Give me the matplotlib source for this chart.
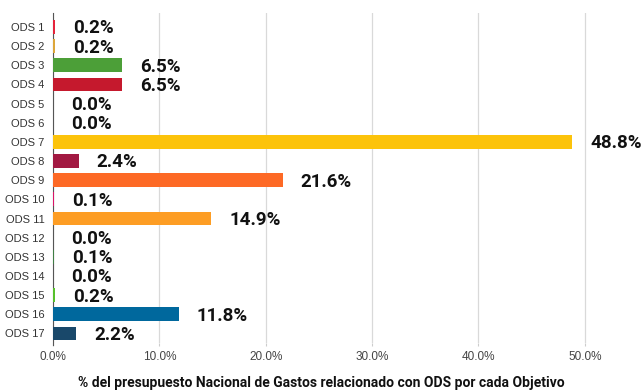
import matplotlib
matplotlib.use("Agg")
import matplotlib.pyplot as plt
from matplotlib.ticker import FuncFormatter

# porcentaje del presupuesto por cada ODS
categorias = ["ODS %d" % i for i in range(1, 18)]
valores = [0.2, 0.2, 6.5, 6.5, 0.0, 0.0, 48.8, 2.4, 21.6, 0.1,
           14.9, 0.0, 0.1, 0.0, 0.2, 11.8, 2.2]
colores = ["#E5243B", "#DDA63A", "#4C9F38", "#C5192D", "#FF3A21", "#26BDE2",
           "#FCC30B", "#A21942", "#FD6925", "#DD1367", "#FD9D24", "#BF8B2E",
           "#3F7E44", "#0A97D9", "#56C02B", "#00689D", "#19486A"]
ticks_x = [0, 10, 20, 30, 40, 50]
titulo_x = "% del presupuesto Nacional de Gastos relacionado con ODS por cada Objetivo"

fig = plt.figure(figsize=(6.42, 3.92), dpi=100)
ax = fig.add_axes([53 / 642, 1 - 343 / 392, 585 / 642, 330 / 392])

pos = list(range(len(categorias)))
ax.barh(pos, valores, height=0.72, color=colores, zorder=3)

for p, v in zip(pos, valores):
    ax.annotate("%.1f%%" % v, xy=(v, p), xytext=(13, -1), textcoords="offset points",
                va="center", ha="left", fontsize=13.5, fontweight="bold",
                family="Roboto", color="#111111")

ax.set_ylim(16.5, -0.73)
ax.set_xlim(0, 55)
ax.set_yticks(pos)
ax.set_yticklabels(categorias, family="Liberation Sans", fontsize=8, color="#333333")
ax.set_xticks(ticks_x)
ax.xaxis.set_major_formatter(FuncFormatter(lambda x, _: "%.1f%%" % x))
for t in ax.get_xticklabels():
    t.set_family("Liberation Sans")
    t.set_fontsize(8.5)
    t.set_color("#444444")
ax.tick_params(axis="x", length=2, color="#cccccc", pad=4)
ax.tick_params(axis="y", length=0, pad=6)
ax.grid(axis="x", color="#d9d9d9", linewidth=0.9, zorder=0)

for s in ["top", "right", "bottom"]:
    ax.spines[s].set_visible(False)
ax.spines["left"].set_color("#555555")
ax.spines["left"].set_bounds(16.6, -0.73)

# título del eje x centrado en la figura
fig.text(0.5, 1 - 383 / 392, titulo_x, family="Roboto", fontweight="bold",
         fontsize=10, color="#111111", ha="center", va="center")

fig.savefig("out.png", dpi=100)
